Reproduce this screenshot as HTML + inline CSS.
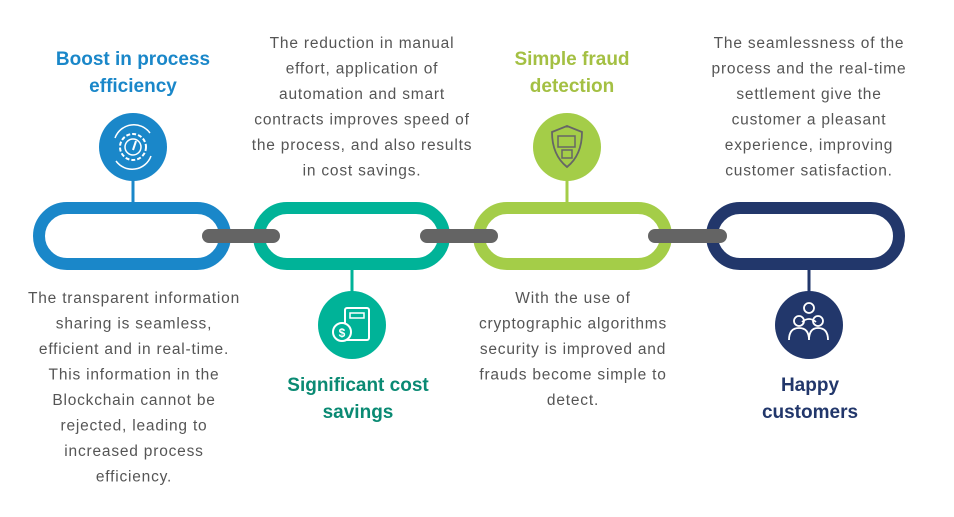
<!DOCTYPE html>
<html><head><meta charset="utf-8"><style>
html,body{margin:0;padding:0;background:#fff;}
svg{display:block;font-family:"Liberation Sans",sans-serif;}
.b{font-size:15.5px;fill:#555;text-anchor:middle;letter-spacing:0.8px;}
.t{font-size:19px;font-weight:bold;text-anchor:middle;}
</style></head><body>
<svg width="954" height="517" viewBox="0 0 954 517">
<rect x="39" y="208" width="186" height="56" rx="28" fill="none" stroke="#1a87c9" stroke-width="12"/>
<rect x="259" y="208" width="185" height="56" rx="28" fill="none" stroke="#00b398" stroke-width="12"/>
<rect x="479" y="208" width="187" height="56" rx="28" fill="none" stroke="#a4cd48" stroke-width="12"/>
<rect x="712" y="208" width="187" height="56" rx="28" fill="none" stroke="#22376b" stroke-width="12"/>
<line x1="209" y1="236" x2="273" y2="236" stroke="#646464" stroke-width="14" stroke-linecap="round"/>
<line x1="427" y1="236" x2="491" y2="236" stroke="#646464" stroke-width="14" stroke-linecap="round"/>
<line x1="655" y1="236" x2="720" y2="236" stroke="#646464" stroke-width="14" stroke-linecap="round"/>
<line x1="133" y1="175" x2="133" y2="203" stroke="#1a87c9" stroke-width="3"/>
<line x1="352" y1="269" x2="352" y2="297" stroke="#00b398" stroke-width="3"/>
<line x1="567" y1="175" x2="567" y2="203" stroke="#a4cd48" stroke-width="3"/>
<line x1="809" y1="269" x2="809" y2="297" stroke="#22376b" stroke-width="3"/>
<circle cx="133" cy="147" r="34" fill="#1a87c9"/>
<circle cx="133" cy="147" r="13" fill="none" stroke="#fff" stroke-width="2" stroke-dasharray="4 2"/>
<circle cx="133" cy="147" r="8" fill="none" stroke="#fff" stroke-width="1.5"/>
<line x1="133" y1="150" x2="136" y2="141" stroke="#fff" stroke-width="2"/>
<path d="M115 138 A20 20 0 0 1 150 133 M151 156 A20 20 0 0 1 116 161" fill="none" stroke="#fff" stroke-width="1.5"/>
<circle cx="352" cy="325" r="34" fill="#00b398"/>
<rect x="345" y="308" width="24" height="32" rx="2" fill="none" stroke="#fff" stroke-width="2"/>
<rect x="350" y="313" width="14" height="5" fill="none" stroke="#fff" stroke-width="1.5"/>
<circle cx="342" cy="332" r="9" fill="#00b398" stroke="#fff" stroke-width="2"/>
<text x="342" y="337" font-size="12" font-weight="bold" fill="#fff" text-anchor="middle">$</text>
<circle cx="567" cy="147" r="34" fill="#a4cd48"/>
<path d="M567 126 L582 132 Q582 155 567 167 Q552 155 552 132 Z" fill="none" stroke="#666" stroke-width="1.8"/>
<rect x="558" y="136" width="17" height="11" fill="none" stroke="#666" stroke-width="1.5"/>
<rect x="562" y="150" width="10" height="8" fill="none" stroke="#666" stroke-width="1.5"/>
<circle cx="809" cy="325" r="34" fill="#22376b"/>
<g fill="none" stroke="#fff" stroke-width="1.8">
<circle cx="809" cy="308" r="5"/><circle cx="799" cy="321" r="5"/><circle cx="818" cy="321" r="5"/>
<path d="M789 340 Q789 328 799 328 Q809 328 809 340 M809 340 Q809 328 818 328 Q828 328 828 340 M802 322 Q809 316 816 322"/>
</g>
<text class="t" fill="#1a87c9"><tspan x="133" y="65">Boost in process</tspan><tspan x="133" y="92">efficiency</tspan></text>
<text class="t" fill="#a4c043"><tspan x="572" y="65">Simple fraud</tspan><tspan x="572" y="92">detection</tspan></text>
<text class="t" fill="#0a8a73"><tspan x="358" y="391">Significant cost</tspan><tspan x="358" y="418">savings</tspan></text>
<text class="t" fill="#22376b"><tspan x="810" y="391">Happy</tspan><tspan x="810" y="418">customers</tspan></text>
<text class="b"><tspan x="362" y="48">The reduction in manual</tspan><tspan x="362" y="73.5">effort, application of</tspan><tspan x="362" y="99">automation and smart</tspan><tspan x="362" y="124.5">contracts improves speed of</tspan><tspan x="362" y="150">the process, and also results</tspan><tspan x="362" y="175.5">in cost savings.</tspan></text>
<text class="b"><tspan x="809" y="48">The seamlessness of the</tspan><tspan x="809" y="73.5">process and the real-time</tspan><tspan x="809" y="99">settlement give the</tspan><tspan x="809" y="124.5">customer a pleasant</tspan><tspan x="809" y="150">experience, improving</tspan><tspan x="809" y="175.5">customer satisfaction.</tspan></text>
<text class="b"><tspan x="134" y="303">The transparent information</tspan><tspan x="134" y="328.5">sharing is seamless,</tspan><tspan x="134" y="354">efficient and in real-time.</tspan><tspan x="134" y="379.5">This information in the</tspan><tspan x="134" y="405">Blockchain cannot be</tspan><tspan x="134" y="430.5">rejected, leading to</tspan><tspan x="134" y="456">increased process</tspan><tspan x="134" y="481.5">efficiency.</tspan></text>
<text class="b"><tspan x="573" y="303">With the use of</tspan><tspan x="573" y="328.5">cryptographic algorithms</tspan><tspan x="573" y="354">security is improved and</tspan><tspan x="573" y="379.5">frauds become simple to</tspan><tspan x="573" y="405">detect.</tspan></text>
</svg>
</body></html>
